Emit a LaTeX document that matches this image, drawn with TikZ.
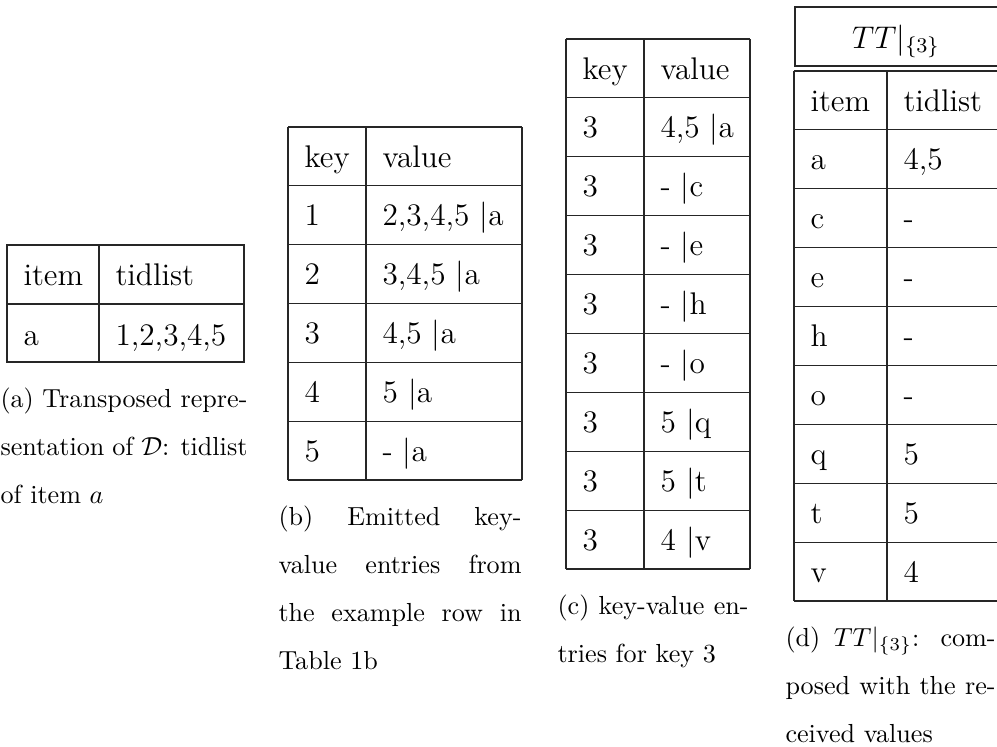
\documentclass[tikz,border=0pt]{standalone}
\usepackage{tikz}
\usetikzlibrary{positioning}
\tikzset{
	cell/.style={anchor=base west, inner sep=0pt, font=\fontsize{12}{14.5}\selectfont},
	capline/.style={anchor=base west, inner sep=0pt, font=\fontsize{10}{12}\selectfont},
	rule/.style={line width=0.4pt, color=black!85},
}
\def\jline#1#2{\makebox[#1][s]{#2}}

\begin{document}
\begin{tikzpicture}[x=0.3831pt, y=-0.3831pt]
		%%%%% START %%%%%
		\useasboundingbox (0,0) rectangle (997,746);
		
		% (a) transposed row
		\draw[rule] (7,245) rectangle (244,362);
		\draw[rule] (7,304) -- (244,304);
		\draw[rule] (99,245) -- (99,362);
		\node[cell] (a-k0) at (23,285) {item};
		\node[cell] (a-v0) at (115,285) {tidlist};
		\node[cell] (a-k1) at (23,345) {a};
		\node[cell] (a-v1) at (115,345) {1,2,3,4,5};
		
		\node[capline] (cap-a1) at (0,407) {\jline{94.6pt}{(a) Transposed repre-}};
		\node[capline] (cap-a2) at (0,455) {\jline{94.6pt}{sentation of $\mathcal{D}$: tidlist}};
		\node[capline] (cap-a3) at (0,503) {of item $a$};
		
		% (b) emitted entries
		\foreach \i in {0,...,6}
			\draw[rule] (288,127+58.83*\i) -- (522,127+58.83*\i);
		\draw[rule] (288,127) -- (288,480);
		\draw[rule] (366,127) -- (366,480);
		\draw[rule] (522,127) -- (522,480);
		\foreach \k/\v [count=\i from 0] in {key/value, 1/{2,3,4,5 $|$a}, 2/{3,4,5 $|$a}, 3/{4,5 $|$a}, 4/{5 $|$a}, 5/{- $|$a}}{
			\node[cell] (b-k\i) at (304,167+58.83*\i) {\k};
			\node[cell] (b-v\i) at (382,167+58.83*\i) {\v};
		}
		
		\node[capline] (cap-b1) at (278,525) {\jline{93.1pt}{(b) Emitted key-}};
		\node[capline] (cap-b2) at (278,573) {\jline{93.1pt}{value entries from}};
		\node[capline] (cap-b3) at (278,621) {\jline{93.1pt}{the example row in}};
		\node[capline] (cap-b4) at (278,669) {Table 1b};
		
		% (c) entries for key 3
		\foreach \i in {0,...,9}
			\draw[rule] (566,39+58.89*\i) -- (750,39+58.89*\i);
		\draw[rule] (566,39) -- (566,569);
		\draw[rule] (644,39) -- (644,569);
		\draw[rule] (750,39) -- (750,569);
		\foreach \k/\v [count=\i from 0] in {key/value, 3/{4,5 $|$a}, 3/{- $|$c}, 3/{- $|$e}, 3/{- $|$h}, 3/{- $|$o}, 3/{5 $|$q}, 3/{5 $|$t}, 3/{4 $|$v}}{
			\node[cell] (c-k\i) at (582,79+58.89*\i) {\k};
			\node[cell] (c-v\i) at (660,79+58.89*\i) {\v};
		}
		
		\node[capline] (cap-c1) at (557,614) {\jline{73.2pt}{(c) key-value en-}};
		\node[capline] (cap-c2) at (557,662) {tries for key 3};
		
		% (d) composed table
		\draw[rule] (997,7) -- (795,7) -- (795,66) -- (997,66);
		\node[cell, anchor=base] (d-title) at (896,48) {$TT|_{\{3\}}$};
		\foreach \i in {0,...,9}
			\draw[rule] (794,71+58.89*\i) -- (997,71+58.89*\i);
		\draw[rule] (794,71) -- (794,601);
		\draw[rule] (887,71) -- (887,601);
		\foreach \k/\v [count=\i from 0] in {item/tidlist, a/{4,5}, c/-, e/-, h/-, o/-, q/5, t/5, v/4}{
			\node[cell] (d-k\i) at (810,111+58.89*\i) {\k};
			\node[cell] (d-v\i) at (903,111+58.89*\i) {\v};
		}
		
		\node[capline] (cap-d1) at (785,646) {\jline{80.5pt}{(d) $TT|_{\{3\}}$: com-}};
		\node[capline] (cap-d2) at (785,694) {\jline{80.5pt}{posed with the re-}};
		\node[capline] (cap-d3) at (785,742) {ceived values};
		%%%%% END %%%%%
\end{tikzpicture}
\end{document}
